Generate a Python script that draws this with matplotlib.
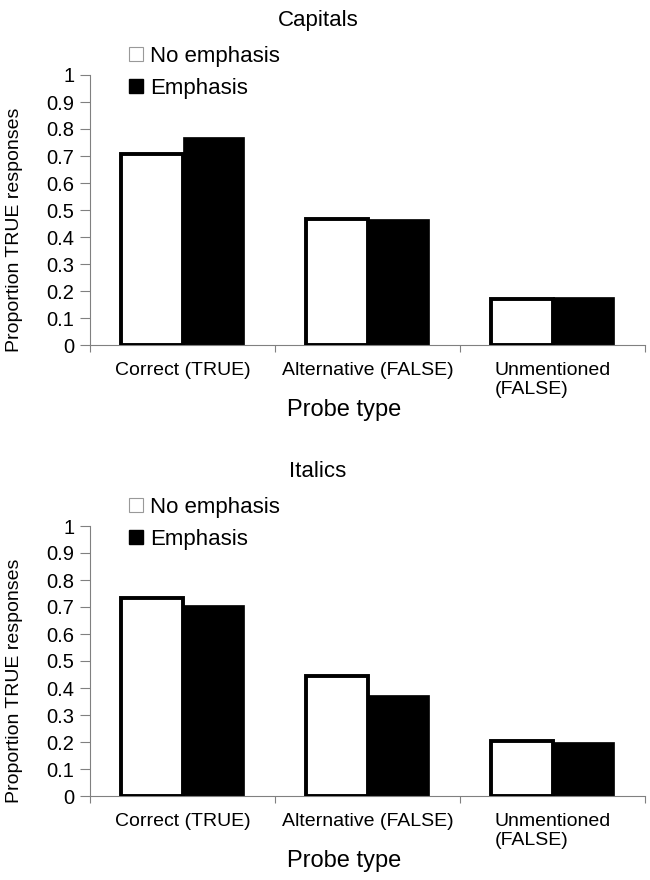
import matplotlib
matplotlib.use("Agg")
import matplotlib.pyplot as plt
from matplotlib.patches import Patch
import numpy as np

plt.rcParams['font.family'] = ['Liberation Sans', 'DejaVu Sans']

categories = ["Correct (TRUE)", "Alternative (FALSE)", "Unmentioned\n(FALSE)"]
series_names = ["No emphasis", "Emphasis"]
capitals_no_emphasis = [0.708, 0.468, 0.172]
capitals_emphasis = [0.772, 0.467, 0.179]
italics_no_emphasis = [0.733, 0.445, 0.203]
italics_emphasis = [0.706, 0.374, 0.200]
panel_titles = ["Capitals", "Italics"]
y_ticks = [0, 0.1, 0.2, 0.3, 0.4, 0.5, 0.6, 0.7, 0.8, 0.9, 1.0]
y_tick_labels = ["0", "0.1", "0.2", "0.3", "0.4", "0.5", "0.6", "0.7", "0.8", "0.9", "1"]
x_title = "Probe type"
y_title = "Proportion TRUE responses"

W, H = 650, 880
fig = plt.figure(figsize=(W / 100, H / 100), dpi=100)

def fx(px):
    return px / W

def fy(py):
    return 1 - py / H

panels = [
    (panel_titles[0], capitals_no_emphasis, capitals_emphasis, 0),
    (panel_titles[1], italics_no_emphasis, italics_emphasis, 451),
]

bw = 0.332
x = np.arange(len(categories))
for title, s1, s2, off in panels:
    ax = fig.add_axes([fx(90), fy(345 + off), fx(645) - fx(90), (270) / H])
    ax.bar(x - bw / 2, s1, width=bw, color="white", edgecolor="black", linewidth=2.8, zorder=3)
    ax.bar(x + bw / 2, s2, width=bw, color="black", edgecolor="black", linewidth=0.5, zorder=2)
    ax.set_xlim(-0.5, len(categories) - 0.5)
    ax.set_ylim(0, 1)
    ax.set_yticks(y_ticks)
    ax.set_yticklabels(y_tick_labels, fontsize=14.5)
    ax.set_xticks(x)
    ax.set_xticklabels(categories, fontsize=14, linespacing=1.15, multialignment="left")
    ax.set_xticks(np.arange(-0.5, len(categories)), minor=True)
    ax.tick_params(axis="x", which="major", length=0, pad=12)
    ax.tick_params(axis="x", which="minor", length=5, color="#808080", width=0.8)
    ax.tick_params(axis="y", length=7, color="#808080", width=0.8, pad=4.3)
    for s in ["top", "right"]:
        ax.spines[s].set_visible(False)
    for s in ["left", "bottom"]:
        ax.spines[s].set_color("#808080")
        ax.spines[s].set_linewidth(0.8)
    fig.text(fx(318), fy(26 + off), title, ha="center", va="baseline", fontsize=16)
    fig.text(fx(344), fy(416 + off), x_title, ha="center", va="baseline", fontsize=17)
    fig.text(fx(15), fy(230 + off), y_title, ha="center", va="center", rotation=90, fontsize=14)
    handles = [Patch(facecolor="white", edgecolor="#999999", linewidth=0.8),
               Patch(facecolor="black", edgecolor="black")]
    fig.legend(handles, series_names, loc="upper left",
               bbox_to_anchor=(fx(129), fy(46 + off)), bbox_transform=fig.transFigure,
               frameon=False, fontsize=16, borderpad=0, borderaxespad=0,
               handlelength=0.625, handleheight=0.625, handletextpad=0.31,
               labelspacing=0.48)

fig.savefig("out.png", dpi=100)
